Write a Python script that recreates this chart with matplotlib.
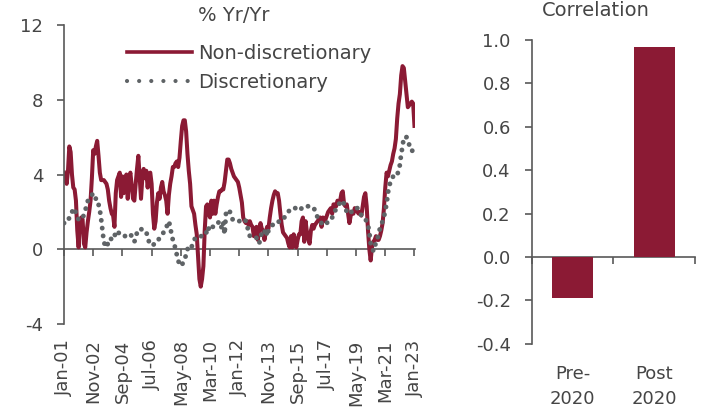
import numpy as np
import pandas as pd
import matplotlib
matplotlib.use('Agg')
import matplotlib.pyplot as plt
from matplotlib.lines import Line2D

months = pd.date_range('2001-01-01', periods=265, freq='MS')

# % Yr/Yr, monthly Jan-01 .. Jan-23
non_discretionary = [
    4.1, 3.8, 3.5, 4.2, 5.5, 5.2, 4.0, 3.3, 3.2, 2.6, 1.0, 0.1,
    1.5, 1.7, 1.6, 0.3, 0.1, 0.9, 1.5, 2.0, 2.6, 3.8, 5.3, 5.1,
    5.5, 5.8, 5.0, 4.1, 3.7, 3.7, 3.7, 3.6, 3.5, 3.2, 2.6, 2.2,
    1.9, 1.8, 1.2, 3.0, 3.7, 3.9, 4.1, 2.8, 3.9, 3.0, 3.3, 4.0,
    2.7, 3.8, 4.1, 3.4, 2.7, 2.6, 3.5, 4.3, 5.0, 3.8, 2.7, 3.8,
    4.3, 3.8, 4.2, 3.3, 4.0, 4.1, 3.5, 1.9, 1.1, 1.5, 2.5, 3.0,
    2.7, 3.3, 3.6, 3.1, 2.9, 2.6, 1.9, 2.9, 3.5, 3.9, 4.4, 4.4,
    4.6, 4.7, 4.4, 4.9, 5.8, 6.6, 6.9, 6.9, 6.3, 5.1, 4.2, 3.5,
    2.3, 2.1, 1.9, 1.3, 0.8, -0.4, -1.6, -2.0, -1.6, -0.9, 1.0, 2.3,
    2.4, 1.9, 1.7, 2.6, 1.9, 2.6, 1.9, 2.4, 2.8, 3.1, 3.1, 3.2,
    3.2, 3.6, 4.2, 4.8, 4.8, 4.6, 4.3, 4.1, 3.9, 3.8, 3.7, 3.6,
    3.3, 2.9, 2.5, 1.7, 1.5, 1.4, 1.5, 1.3, 1.5, 1.3, 1.2, 0.7,
    0.9, 1.2, 0.5, 1.0, 1.4, 1.1, 1.0, 0.5, 0.9, 1.2, 1.1, 1.7,
    2.2, 2.6, 2.9, 3.1, 3.0, 3.0, 2.6, 1.9, 1.3, 0.9, 0.8, 0.7,
    0.6, 0.3, 0.1, 0.7, 0.1, 0.8, 0.5, 0.1, 0.5, 0.8, 0.8, 1.5,
    1.7, 0.4, 1.5, 0.9, 0.6, 0.3, 1.0, 1.3, 1.1, 1.3, 1.4, 1.5,
    1.6, 1.7, 1.2, 1.7, 1.5, 1.6, 1.8, 2.0, 2.1, 2.2, 1.9, 2.4,
    2.4, 2.3, 2.6, 2.5, 2.6, 3.0, 3.1, 2.4, 2.3, 2.4, 1.9, 1.4,
    1.8, 2.0, 1.9, 2.2, 2.1, 2.0, 1.9, 2.0, 1.8, 2.3, 2.8, 3.0,
    2.3, 1.0, 0.0, -0.6, 0.1, 0.4, 0.5, 0.7, 0.5, 0.5, 0.7, 1.0,
    1.4, 2.2, 3.3, 4.1, 3.9, 4.2, 4.5, 4.7, 5.1, 5.4, 5.9, 7.0,
    7.8, 8.3, 9.3, 9.8, 9.7, 9.0, 8.3, 7.6, 7.7, 7.8, 7.9, 7.8,
    6.6,
]

discretionary = [
    1.4, 1.4, 1.4, 1.5, 1.7, 1.8, 2.0, 2.1, 2.2, 1.9, 1.7, 1.6,
    1.6, 1.6, 1.6, 1.9, 2.1, 2.3, 2.6, 2.7, 2.8, 2.9, 3.0, 2.9,
    2.7, 2.7, 2.4, 2.1, 1.6, 1.0, 0.4, 0.2, 0.1, 0.3, 0.5, 0.6,
    0.5, 0.5, 0.7, 0.9, 1.0, 0.9, 0.8, 0.8, 0.8, 0.8, 0.7, 0.7,
    0.8, 0.8, 0.8, 0.7, 0.6, 0.4, 0.6, 0.9, 1.0, 1.1, 1.1, 1.0,
    1.0, 1.0, 0.9, 0.7, 0.4, 0.3, 0.3, 0.2, 0.3, 0.4, 0.4, 0.5,
    0.6, 0.7, 0.8, 0.9, 1.0, 1.1, 1.4, 1.5, 1.2, 0.8, 0.5, 0.3,
    0.0, -0.3, -0.6, -0.8, -0.9, -0.8, -0.7, -0.5, -0.3, 0.0, 0.1, 0.0,
    0.1, 0.3, 0.5, 0.6, 0.6, 0.7, 0.7, 0.7, 0.7, 0.7, 0.7, 0.8,
    1.2, 1.1, 1.1, 1.0, 1.2, 1.2, 1.2, 1.3, 1.4, 1.5, 1.3, 1.1,
    1.4, 0.8, 1.9, 2.1, 2.1, 2.0, 1.8, 1.6, 1.5, 1.5, 1.5, 1.5,
    1.5, 1.6, 1.6, 1.6, 1.6, 1.5, 1.2, 1.0, 0.7, 0.7, 0.7, 0.7,
    0.7, 0.6, 0.4, 0.3, 0.6, 0.9, 1.0, 0.9, 1.1, 0.7, 1.0, 1.1,
    1.2, 1.3, 1.3, 1.4, 1.4, 1.4, 1.5, 1.5, 1.5, 1.6, 1.7, 1.8,
    1.9, 2.0, 2.1, 2.2, 2.2, 2.2, 2.2, 2.2, 2.2, 2.2, 2.1, 2.2,
    2.3, 2.3, 2.3, 2.3, 2.3, 2.3, 2.3, 2.2, 2.2, 2.1, 1.9, 1.7,
    1.6, 1.5, 1.4, 1.4, 1.3, 1.3, 1.4, 1.5, 1.6, 1.7, 1.7, 1.8,
    2.0, 2.2, 2.3, 2.4, 2.5, 2.6, 2.6, 2.4, 2.2, 2.0, 1.9, 1.9,
    2.0, 2.0, 2.1, 2.2, 2.2, 2.2, 2.1, 2.0, 1.8, 1.7, 1.6, 1.6,
    1.5, 1.3, 0.9, 0.3, 0.2, -0.1, 0.2, 0.3, 0.5, 0.9, 1.1, 1.3,
    1.5, 1.7, 2.1, 2.4, 3.0, 3.4, 3.6, 3.8, 3.9, 3.9, 3.9, 3.9,
    4.3, 4.5, 5.1, 5.5, 6.0, 6.0, 6.0, 5.8, 5.6, 5.6, 5.4, 5.0,
    5.1,
]

periods = ['Pre-\n2020', 'Post\n2020']
correlation = [-0.19, 0.97]

RED = '#8b1a34'
GREY = '#5f6366'
TEXT = '#454545'
AXIS = '#595959'

plt.rcParams['font.family'] = ['DejaVu Sans']
plt.rcParams['axes.unicode_minus'] = False
plt.rcParams['text.color'] = TEXT
plt.rcParams['xtick.color'] = AXIS
plt.rcParams['ytick.color'] = AXIS
plt.rcParams['xtick.labelcolor'] = TEXT
plt.rcParams['ytick.labelcolor'] = TEXT

fig = plt.figure(figsize=(7.07, 4.17), dpi=100)

# ---- left: time series
ax = fig.add_axes([64 / 707, 1 - 324 / 417, (415 - 64) / 707, (324 - 25) / 417])
x = np.arange(len(months))
ax.plot(x, non_discretionary, color=RED, lw=2.9, solid_joinstyle='round', zorder=2)
ax.plot(x, discretionary, color=GREY, lw=3.5, linestyle=(0, (0.01, 1.6)),
        dash_capstyle='round', zorder=3)

ax.set_xlim(0, len(months) - 0.6)
ax.set_ylim(-4, 12)
ax.set_yticks([-4, 0, 4, 8, 12])
ax.set_yticklabels(['-4', '0', '4', '8', '12'])
ax.tick_params(axis='y', direction='out', length=5, width=1.2, labelsize=13, pad=10)

tick_pos = x[::22]
ax.set_xticks(tick_pos)
ax.set_xticklabels([months[i].strftime('%b-%y') for i in tick_pos], rotation=90)
ax.tick_params(axis='x', length=0, labelsize=13, pad=11)

for s in ['top', 'right', 'bottom']:
    ax.spines[s].set_visible(False)
ax.spines['left'].set_color(AXIS)
ax.spines['left'].set_linewidth(1.2)

zero_ax = ax.secondary_xaxis(4 / 16)
zero_ax.set_xticks(tick_pos)
zero_ax.set_xticklabels([])
zero_ax.tick_params(direction='out', length=5, width=1.2, color=AXIS)
zero_ax.spines['bottom'].set_color(AXIS)
zero_ax.spines['bottom'].set_linewidth(1.2)

handles = [
    Line2D([], [], color=RED, lw=2.6),
    Line2D([], [], color=GREY, lw=3.0, linestyle=(0, (0.01, 2.9)), dash_capstyle='round'),
]
leg = ax.legend(handles, ['Non-discretionary', 'Discretionary'], loc='upper left',
                bbox_to_anchor=(127 / 707, 1 - 44 / 417), bbox_transform=fig.transFigure,
                frameon=False, fontsize=14, handlelength=3.35, handletextpad=0.3,
                labelspacing=0.52, borderpad=0, borderaxespad=0)
for t in leg.get_texts():
    t.set_color(TEXT)

fig.text(234 / 707, 1 - 21 / 417, '% Yr/Yr', ha='center', va='baseline', fontsize=14)

# ---- right: correlation bars
ax2 = fig.add_axes([531.7 / 707, 1 - 343.7 / 417, (695 - 531.7) / 707, (343.7 - 40) / 417])
pos = np.arange(len(periods))
ax2.bar(pos, correlation, width=0.5, color=RED, zorder=2)
ax2.set_xlim(-0.5, len(periods) - 0.5)
ax2.set_ylim(-0.4, 1.0)
yt = np.arange(-0.4, 1.01, 0.2)
ax2.set_yticks(yt)
ax2.set_yticklabels(['%.1f' % v for v in yt])
ax2.tick_params(axis='y', direction='out', length=5, width=1.2, labelsize=13, pad=10)
ax2.set_xticks(pos)
ax2.set_xticklabels(periods, linespacing=1.5)
ax2.tick_params(axis='x', length=0, labelsize=13, pad=15)

for s in ['top', 'right', 'bottom']:
    ax2.spines[s].set_visible(False)
ax2.spines['left'].set_color(AXIS)
ax2.spines['left'].set_linewidth(1.2)

zero2 = ax2.secondary_xaxis(0.4 / 1.4)
zero2.set_xticks([-0.5, 0.5, 1.5])
zero2.set_xticklabels([])
zero2.tick_params(direction='out', length=5, width=1.2, color=AXIS)
zero2.spines['bottom'].set_color(AXIS)
zero2.spines['bottom'].set_linewidth(1.2)

fig.text(596 / 707, 1 - 16 / 417, 'Correlation', ha='center', va='baseline', fontsize=14)

fig.savefig('out.png', dpi=100)
